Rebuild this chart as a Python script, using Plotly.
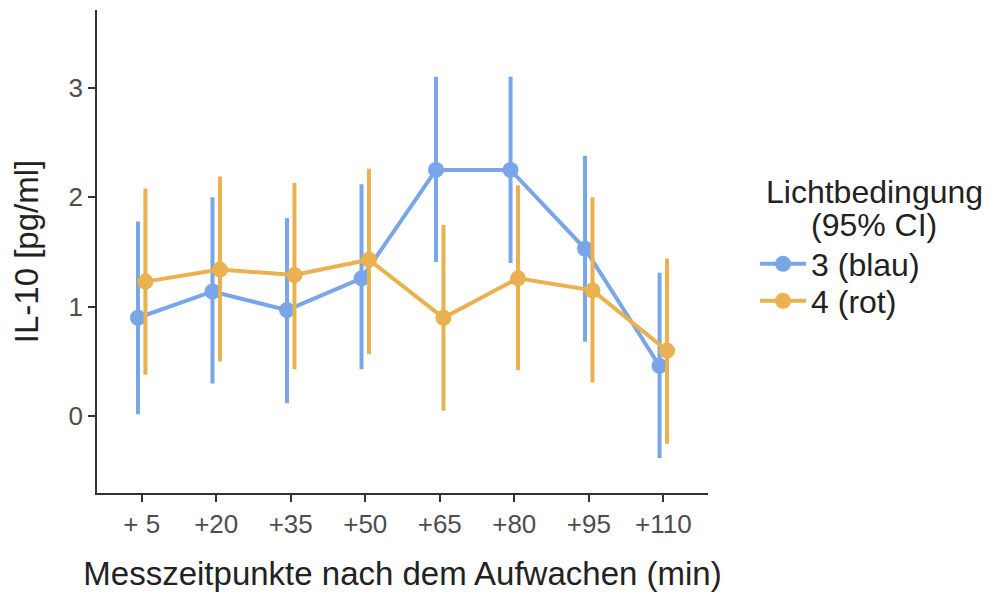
import plotly.graph_objects as go

categories = ["+ 5", "+20", "+35", "+50", "+65", "+80", "+95", "+110"]

blue_mean = [0.90, 1.14, 0.97, 1.26, 2.25, 2.25, 1.53, 0.46]
blue_low = [0.02, 0.30, 0.12, 0.43, 1.41, 1.40, 0.68, -0.38]
blue_high = [1.78, 2.00, 1.81, 2.12, 3.10, 3.10, 2.38, 1.31]

orange_mean = [1.23, 1.34, 1.29, 1.43, 0.90, 1.26, 1.15, 0.60]
orange_low = [0.38, 0.50, 0.43, 0.57, 0.05, 0.42, 0.31, -0.25]
orange_high = [2.08, 2.19, 2.13, 2.26, 1.75, 2.11, 2.00, 1.44]

legend_title = ["Lichtbedingung", "(95% CI)"]

series = [
    ("3 (blau)", blue_mean, blue_low, blue_high, "#78A6E8", -0.05, "legend"),
    ("4 (rot)", orange_mean, orange_low, orange_high, "#E9B14F", 0.05, "legend2"),
]

FONT = "Liberation Sans, Arial, sans-serif"
fig = go.Figure()
for name, mean, low, high, color, off, lg in series:
    xs = [i + off for i in range(len(categories))]
    fig.add_trace(go.Scatter(
        x=xs, y=mean, name=name, mode="lines+markers", legend=lg, showlegend=True,
        line=dict(color=color, width=4),
        marker=dict(color=color, size=16),
        error_y=dict(type="data", symmetric=False,
                     array=[h - m for h, m in zip(high, mean)],
                     arrayminus=[m - l for m, l in zip(mean, low)],
                     color=color, thickness=4, width=0),
    ))

legend_common = dict(xanchor="left", yanchor="middle", font=dict(size=32, color="#222222"),
                     bgcolor="rgba(0,0,0,0)", itemwidth=46, visible=True)

fig.update_layout(
    width=986, height=589, showlegend=True,
    margin=dict(l=89, r=286, t=2, b=104, autoexpand=False),
    paper_bgcolor="white", plot_bgcolor="white",
    font=dict(family=FONT, color="#333333"),
    xaxis=dict(
        range=[-0.6, 7.6], tickmode="array",
        tickvals=list(range(len(categories))), ticktext=categories,
        showgrid=False, zeroline=False, showline=True, linecolor="#333333", linewidth=1.5,
        ticks="outside", ticklen=7, tickwidth=1.5, tickcolor="#333333",
        tickfont=dict(size=26, color="#4D4D4D", family=FONT),
        title=dict(text="Messzeitpunkte nach dem Aufwachen (min)", font=dict(size=33, color="#222222"), standoff=24),
        automargin=False,
    ),
    yaxis=dict(
        range=[-0.70, 3.71], tickmode="array", tickvals=[0, 1, 2, 3],
        showgrid=False, zeroline=False, showline=True, linecolor="#333333", linewidth=1.5,
        ticks="outside", ticklen=7, tickwidth=1.5, tickcolor="#333333",
        tickfont=dict(size=26, color="#4D4D4D", family=FONT),
        title=dict(text="IL-10 [pg/ml]", font=dict(size=33, color="#222222"), standoff=22),
        automargin=False,
    ),
    legend=dict(x=1.077, y=0.474, **legend_common),
    legend2=dict(x=1.077, y=0.3975, **legend_common),
)

for txt, yp in zip(legend_title, [0.623, 0.555]):
    fig.add_annotation(text=txt, xref="paper", yref="paper", x=1.2717, y=yp,
                       xanchor="center", yanchor="middle", showarrow=False,
                       font=dict(size=32, color="#222222", family=FONT))

fig.write_html("out.html")
